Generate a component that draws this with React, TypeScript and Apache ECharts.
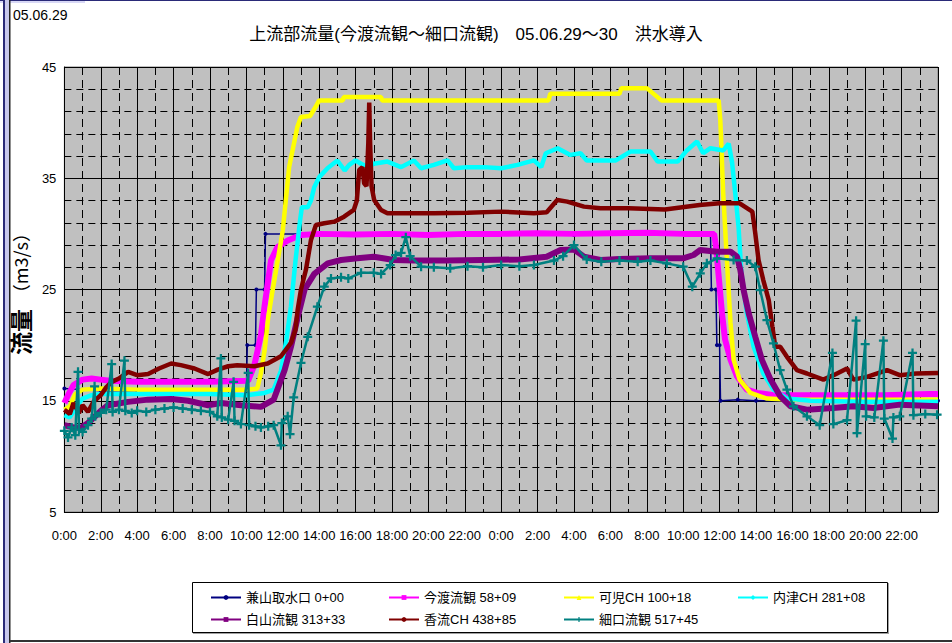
import React, { useEffect, useRef } from 'react';
import * as echarts from 'echarts';

const TITLE = '上流部流量(今渡流観～細口流観)　05.06.29～30　洪水導入';
const DATE_LABEL = '05.06.29';
const Y_NAME_MAIN = '流量';
const Y_NAME_UNIT = '（m3/s）';

const seriesNames = [
  '兼山取水口 0+00',
  '今渡流観 58+09',
  '可児CH 100+18',
  '内津CH 281+08',
  '白山流観 313+33',
  '香流CH 438+85',
  '細口流観 517+45',
];
const seriesColors = ['#000080', '#ff00ff', '#ffff00', '#00ffff', '#800080', '#800000', '#008080'];

const hourLabels = [
  '0:00', '2:00', '4:00', '6:00', '8:00', '10:00', '12:00', '14:00', '16:00', '18:00', '20:00', '22:00',
  '0:00', '2:00', '4:00', '6:00', '8:00', '10:00', '12:00', '14:00', '16:00', '18:00', '20:00', '22:00',
];

// [hour since 05.06.29 0:00, flow m3/s]
const kaneyama: [number, number][] = [
  [0, 16.1], [1, 16.0], [2, 15.9], [4, 15.9], [6, 15.9], [8, 15.8], [10, 15.9],
  [10.05, 20.0], [10.5, 20.0], [10.55, 25.0], [11.0, 25.0], [11.05, 30.0], [12, 30.0],
  [14, 30.0], [20, 29.9], [28, 29.9], [35.5, 30.0], [35.55, 25.0], [35.8, 25.0],
  [35.85, 20.0], [36.0, 20.0], [36.05, 15.0], [37, 15.1], [38, 15.0], [40, 15.0], [44, 15.0], [48, 15.0],
];

const imawatari: [number, number][] = [
  [0, 14.8], [0.2, 15.5], [0.5, 16.4], [1.0, 16.9], [1.5, 17.0], [2.0, 16.9], [2.5, 16.8],
  [4, 16.7], [6, 16.7], [8, 16.7], [10.1, 16.8], [10.44, 18.2], [10.8, 20.9], [11.0, 23.5],
  [11.35, 27.6], [11.7, 28.8], [12.27, 29.4], [13, 29.9], [14, 30.0], [16, 29.95], [18, 30.0],
  [20, 29.9], [22, 30.0], [24, 30.0], [26, 30.05], [28, 30.0], [30, 30.05], [32, 30.1], [34, 30.0],
  [35.7, 30.0], [35.8, 28.9], [35.95, 26.2], [36.13, 22.9], [36.3, 20.5], [36.6, 18.7],
  [36.95, 17.2], [37.5, 16.0], [38.05, 15.7], [39, 15.5], [42, 15.5], [45, 15.5], [47.5, 15.6], [48, 15.6],
];

const kani: [number, number][] = [
  [0, 14.2], [0.3, 14.5], [0.6, 15.6], [1.0, 16.0], [2, 16.1], [4, 16.0], [6, 16.0], [8, 16.0],
  [10, 16.0], [10.6, 16.1], [10.8, 17.5], [11.0, 19.5], [11.2, 22.5], [11.45, 25.0], [12.0, 30.3],
  [12.35, 36.0], [12.8, 39.6], [13.0, 40.5], [13.5, 40.6], [13.8, 41.4], [14.0, 42.0], [15.3, 42.0],
  [15.35, 42.3], [17.4, 42.3], [17.45, 42.0], [26.6, 42.0], [26.7, 42.6], [30.5, 42.6], [30.6, 43.1],
  [32.0, 43.1], [32.8, 42.0], [35.95, 42.0], [36.04, 40.2], [36.2, 33.6], [36.4, 27.7], [36.6, 22.0],
  [36.77, 18.7], [37.1, 16.9], [37.7, 15.7], [38.6, 15.2], [40, 15.1], [44, 15.1], [48, 15.1],
];

const utsu: [number, number][] = [
  [0, 13.7], [0.3, 13.5], [0.6, 14.3], [1.0, 15.2], [1.5, 15.5], [2, 15.6], [4, 15.6], [6, 15.6],
  [8, 15.6], [10, 15.5], [11.0, 15.7], [11.5, 16.0], [11.9, 17.7], [12.2, 20.5], [12.45, 23.5],
  [12.7, 27.6], [12.95, 31.2], [13.05, 32.4], [13.37, 32.4], [13.55, 33.0], [13.73, 34.2], [14.0, 35.1],
  [14.46, 35.9], [15.0, 36.6], [15.4, 35.7], [15.65, 36.2], [16.0, 36.6], [16.3, 36.3], [16.66, 36.0],
  [17.0, 36.3], [17.75, 36.5], [18.5, 36.0], [19.2, 36.6], [19.6, 35.9], [20.3, 36.2], [21.05, 36.6],
  [21.4, 35.9], [22.15, 36.0], [23.05, 36.0], [24.0, 35.9], [24.9, 36.2], [25.8, 36.6], [26.2, 36.0],
  [26.45, 37.25], [27.1, 37.7], [27.8, 37.1], [28.36, 37.25], [28.7, 36.6], [29.5, 36.6], [30.3, 36.6],
  [31.1, 37.4], [32.2, 37.4], [32.6, 36.5], [33.7, 36.5], [34.2, 37.5], [34.76, 38.3], [35.1, 37.25],
  [35.5, 37.7], [36.2, 37.5], [36.5, 38.1], [36.68, 36.5], [36.86, 33.65], [37.04, 30.65], [37.2, 26.45],
  [37.5, 22.85], [37.87, 19.85], [38.4, 17.45], [38.96, 16.0], [39.7, 15.2], [41, 15.0], [44, 14.9], [48, 14.9],
];

const hakusan: [number, number][] = [
  [0, 12.8], [0.5, 12.6], [0.93, 12.6], [1.3, 13.0], [1.66, 13.55], [2.0, 14.1], [2.4, 14.6], [3.5, 14.9],
  [4.6, 15.1], [5.87, 15.15], [6.8, 15.0], [7.9, 14.6], [8.6, 14.8], [9.7, 14.6], [10.8, 14.45],
  [11.5, 15.1], [12.1, 17.75], [12.45, 19.85], [12.82, 22.5], [13.2, 25.0], [13.73, 26.4], [14.47, 27.35],
  [15.2, 27.65], [16.1, 27.8], [17.0, 27.95], [18.1, 27.65], [19.2, 27.6], [21, 27.6], [23, 27.65],
  [25, 27.7], [26.5, 27.95], [27.26, 28.55], [28.0, 28.6], [28.55, 27.95], [29.46, 27.65], [30.5, 27.75],
  [32.2, 27.8], [34.0, 27.8], [34.57, 28.1], [34.94, 28.55], [35.86, 28.4], [36.6, 28.4], [36.96, 27.95],
  [37.14, 26.75], [37.32, 24.95], [37.6, 22.85], [37.96, 20.75], [38.33, 18.65], [38.8, 16.9],
  [39.33, 15.4], [39.9, 14.5], [40.8, 14.2], [42.26, 14.35], [43.35, 14.5], [44.45, 14.35], [45.9, 14.65], [48, 14.5],
];

const koryu: [number, number][] = [
  [0, 14.2], [0.3, 13.8], [0.5, 14.8], [0.8, 13.9], [1.0, 14.6], [1.3, 14.0], [1.6, 14.9], [2.0, 15.5],
  [2.3, 16.2], [2.6, 16.7], [3.0, 17.0], [3.5, 17.6], [4.0, 17.3], [4.6, 17.4], [5.2, 17.9], [5.87, 18.35],
  [6.4, 18.2], [7.15, 17.9], [7.9, 17.4], [8.43, 17.8], [9.0, 18.1], [9.5, 18.2], [10.44, 18.1],
  [11.17, 18.35], [11.9, 19.0], [12.45, 20.2], [12.7, 21.4], [12.82, 23.2], [13.0, 25.0], [13.27, 26.75],
  [13.55, 29.45], [13.82, 30.8], [14.28, 30.95], [14.83, 31.1], [15.37, 31.55], [15.9, 32.15],
  [16.07, 33.0], [16.2, 35.75], [16.38, 36.0], [16.47, 34.55], [16.6, 34.3], [16.7, 38.15], [16.75, 41.8],
  [16.8, 38.15], [16.88, 34.25], [17.02, 33.05], [17.4, 32.15], [17.75, 31.85], [19.4, 31.85],
  [20.3, 31.85], [22.15, 31.9], [24, 32.0], [25.8, 31.85], [26.5, 31.95], [27.08, 33.05], [27.63, 32.9],
  [28.55, 32.45], [29.46, 32.3], [31, 32.3], [33, 32.2], [34.9, 32.6], [36.0, 32.75], [37.1, 32.75],
  [37.8, 32.0], [37.96, 30.05], [38.14, 27.65], [38.4, 25.85], [38.7, 24.05], [38.9, 21.65], [39.06, 19.85],
  [39.33, 19.85], [39.7, 18.95], [40.25, 17.75], [40.8, 17.45], [41.7, 16.9], [42.26, 17.3], [43.0, 17.9],
  [43.35, 16.9], [44.1, 17.15], [45.2, 17.75], [45.9, 17.3], [46.8, 17.45], [48, 17.5],
];

const hosoguchi: [number, number][] = [
  [0, 12.3], [0.2, 11.7], [0.4, 12.6], [0.6, 11.9], [0.75, 17.6], [0.8, 12.4], [1.0, 12.2], [1.3, 12.8],
  [1.5, 13.4], [1.66, 16.3], [1.7, 13.6], [2.0, 13.9], [2.3, 14.2], [2.6, 18.3], [2.65, 14.0], [3.0, 14.2],
  [3.3, 18.6], [3.35, 14.1], [3.7, 13.9], [4.0, 14.1], [4.5, 14.0], [5.0, 14.2], [5.5, 14.3], [6.0, 14.4],
  [6.5, 14.3], [7.0, 14.2], [7.5, 14.1], [8.0, 14.0], [8.4, 13.6], [8.6, 18.8], [8.65, 13.5], [9.0, 13.3],
  [9.3, 16.7], [9.35, 13.2], [9.7, 12.9], [10.1, 17.5], [10.15, 12.8], [10.5, 12.7], [10.8, 12.6],
  [11.2, 12.7], [11.5, 12.8], [11.9, 11.0], [11.95, 13.0], [12.27, 13.6], [12.4, 12.0], [12.6, 15.3],
  [13.0, 18.4], [13.37, 20.75], [13.9, 23.45], [14.28, 25.25], [14.65, 26.0], [15.2, 26.1], [15.6, 26.0],
  [16.3, 26.5], [17.0, 26.5], [17.4, 26.4], [17.9, 27.2], [18.2, 28.1], [18.5, 28.3], [18.76, 29.7],
  [19.0, 28.0], [19.6, 27.05], [20.3, 27.0], [21.2, 26.9], [22.15, 27.1], [23.0, 27.0], [24.0, 27.2],
  [25.0, 27.1], [25.8, 27.2], [26.9, 27.6], [27.4, 28.0], [28.0, 29.0], [28.7, 27.7], [29.5, 27.5],
  [30.5, 27.6], [31.5, 27.5], [32.2, 27.6], [33.1, 27.35], [34.0, 27.05], [34.5, 25.25], [34.94, 26.45],
  [35.3, 27.35], [35.86, 27.8], [36.77, 27.65], [37.5, 27.6], [37.96, 27.05], [38.23, 24.95], [38.6, 22.25],
  [38.96, 20.15], [39.33, 17.75], [39.7, 16.0], [40.06, 14.5], [40.8, 13.6], [41.5, 12.8], [42.2, 19.3],
  [42.25, 12.9], [43.0, 13.25], [43.5, 22.2], [43.55, 12.1], [44.0, 20.1], [44.05, 13.6], [44.5, 13.5],
  [45.0, 20.4], [45.05, 13.4], [45.5, 11.6], [45.55, 13.5], [45.9, 13.6], [46.6, 19.3], [46.65, 13.7],
  [47.3, 13.8], [47.95, 13.75],
];

const seriesData = [kaneyama, imawatari, kani, utsu, hakusan, koryu, hosoguchi];

const FONT = "'Liberation Sans', 'Noto Sans CJK JP', sans-serif";
const CJK = "'Noto Sans CJK JP', sans-serif";
const PLUS = 'path://M3,0H5V3H8V5H5V8H3V5H0V3H3Z';
const symbols = ['circle', 'rect', 'triangle', 'diamond', 'rect', 'circle', PLUS];
const widths = [1.5, 6, 4.5, 4.5, 6, 4.5, 2.5];
const legendPos = [
  [205, 586], [383, 586], [558, 586], [732, 586],
  [205, 608], [383, 608], [558, 608],
];

export default function App() {
  const ref = useRef<HTMLDivElement>(null);
  useEffect(() => {
    document.body.style.margin = '0';
    const chart = echarts.init(ref.current!, null, { renderer: 'svg' });
    const option: any = {
      animation: false,
      backgroundColor: '#ffffff',
      title: {
        text: TITLE,
        left: 'center',
        top: 21,
        textStyle: { fontFamily: FONT, fontSize: 17, fontWeight: 'normal', color: '#000' },
      },
      grid: {
        left: 63, top: 67, right: 14, bottom: 131,
        show: true, backgroundColor: '#c0c0c0', borderColor: '#808080', borderWidth: 1,
      },
      xAxis: {
        type: 'value', min: 0, max: 48, interval: 2,
        axisLine: { show: true, lineStyle: { color: '#000', width: 1 } },
        axisTick: { show: false },
        axisLabel: {
          color: '#000', fontSize: 13, margin: 17,
          fontFamily: "'Liberation Sans Narrow', 'Liberation Sans', sans-serif",
          formatter: (v: number) => (v >= 48 ? '' : hourLabels[Math.round(v / 2)]),
        },
        splitLine: { show: true, lineStyle: { color: '#000', width: 1, type: 'solid' } },
        minorTick: { show: false, splitNumber: 2 },
        minorSplitLine: { show: true, lineStyle: { color: '#000', width: 1, type: [8, 5] } },
      },
      yAxis: {
        type: 'value', min: 5, max: 45, interval: 10,
        axisLine: { show: true, lineStyle: { color: '#000', width: 1 } },
        axisTick: { show: false },
        axisLabel: { color: '#000', fontSize: 13, margin: 8, fontFamily: FONT },
        splitLine: { show: true, lineStyle: { color: '#000', width: 1, type: 'solid' } },
        minorTick: { show: false, splitNumber: 5 },
        minorSplitLine: { show: true, lineStyle: { color: '#000', width: 1, type: [7, 5] } },
        name: '{a|' + Y_NAME_MAIN + '}  {b|' + Y_NAME_UNIT + '}',
        nameLocation: 'middle',
        nameGap: 24,
        nameRotate: 90,
        nameTextStyle: {
          rich: {
            a: { fontSize: 23, fontWeight: 'bold', color: '#000', fontFamily: CJK },
            b: { fontSize: 18, color: '#000', fontFamily: CJK },
          },
        },
      },
      legend: seriesNames.map((n, i) => ({
        data: [n],
        left: legendPos[i][0],
        top: legendPos[i][1],
        itemWidth: 30,
        itemHeight: 6,
        itemGap: 4,
        selectedMode: false,
        textStyle: { fontSize: 13, color: '#000', fontFamily: FONT },
        lineStyle: { width: 2 },
      })),
      graphic: [
        { type: 'rect', left: 0, top: 0, shape: { width: 85, height: 3 }, style: { fill: '#d8d8f6' }, silent: true },
        { type: 'rect', left: 0, top: 0, shape: { width: 952, height: 1 }, style: { fill: '#2a2a78' }, silent: true },
        { type: 'rect', left: 3, top: 0, shape: { width: 2, height: 643 }, style: { fill: '#2a2a78' }, silent: true },
        { type: 'rect', left: 5, top: 0, shape: { width: 4, height: 643 }, style: { fill: '#c8c8ec' }, silent: true },
        { type: 'rect', left: 9, top: 0, shape: { width: 1.5, height: 643 }, style: { fill: '#222' }, silent: true },
        { type: 'rect', left: 10, top: 640, shape: { width: 942, height: 2 }, style: { fill: '#333' }, silent: true },
        {
          type: 'text', left: 13, top: 8, silent: true,
          style: { text: DATE_LABEL, fontSize: 14, fill: '#000', fontFamily: FONT },
        },
        {
          type: 'rect', left: 193, top: 583, z: -1, silent: true,
          shape: { width: 696, height: 51 }, style: { fill: '#a0a0a0' },
        },
        {
          type: 'rect', left: 192, top: 582, z: 0, silent: true,
          shape: { width: 695, height: 50 }, style: { fill: '#fff', stroke: '#000', lineWidth: 1 },
        },
      ],
      series: seriesData.map((d, i) => ({
        name: seriesNames[i],
        type: 'line',
        data: d,
        z: i === 0 ? 2 : 3,
        color: seriesColors[i],
        symbol: symbols[i],
        symbolSize: i === 6 ? 9 : 4,
        showSymbol: i === 0 || i === 6,
        lineStyle: { width: widths[i], color: seriesColors[i] },
        itemStyle: { color: seriesColors[i] },
        silent: true,
        clip: true,
      })),
    };
    chart.setOption(option);
    return () => chart.dispose();
  }, []);
  return <div ref={ref} style={{ width: 952, height: 643 }} />;
}
